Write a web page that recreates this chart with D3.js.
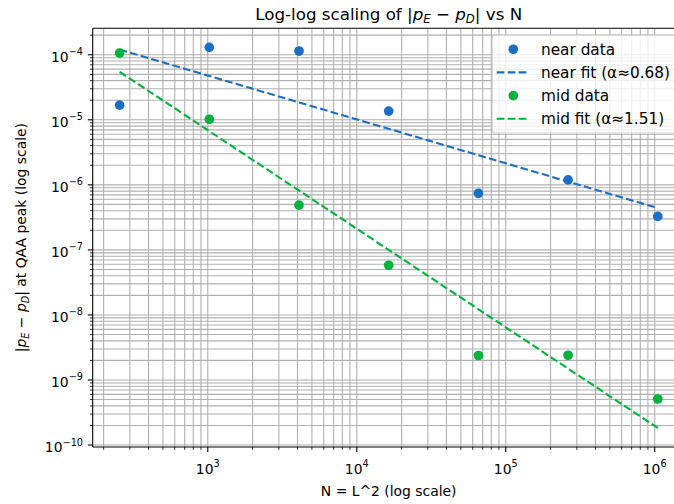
<!DOCTYPE html>
<html><head><meta charset="utf-8">
<script src="https://cdn.jsdelivr.net/npm/d3@7"></script>
<style>
body{margin:0;background:#fff;}
svg{display:block;font-family:"DejaVu Sans",sans-serif;}
</style>
</head><body><svg id="c" width="674" height="504"></svg>
<script>
// ---------- data ----------
const N = [256, 1024, 4096, 16384, 65536, 262144, 1048576];
const nearData = [1.68e-5, 1.30e-4, 1.14e-4, 1.36e-5, 7.4e-7, 1.19e-6, 3.27e-7];
const midData  = [1.06e-4, 1.02e-5, 4.88e-7, 5.8e-8, 2.38e-9, 2.4e-9, 5.1e-10];
const fitN     = [256, 1048576];
const nearFit  = [1.2e-4, 4.4e-7];
const midFit   = [5.47e-5, 1.83e-10];
const xMajorTicks = [1e3, 1e4, 1e5, 1e6];
const xTickExps   = ["3", "4", "5", "6"];
const yMajorTicks = [1e-10, 1e-9, 1e-8, 1e-7, 1e-6, 1e-5, 1e-4];
const yTickExps   = ["\u221210", "\u22129", "\u22128", "\u22127", "\u22126", "\u22125", "\u22124"];
const legendLabels = ["near data", "near fit (\u03b1\u22480.68)", "mid data", "mid fit (\u03b1\u22481.51)"];

// ---------- layout ----------
const svg = d3.select("#c");
const L = 92.7, T = 28.3, W = 592, H = 418.7;
const R = L + W, B = T + H;
const blue = "#1a6ec3", green = "#00b33c";
const gridColor = "#b0b0b0";

function logExtent(vals) {
  const lo = Math.log10(d3.min(vals)), hi = Math.log10(d3.max(vals));
  const m = (hi - lo) * 0.05;
  return [Math.pow(10, lo - m), Math.pow(10, hi + m)];
}
const x = d3.scaleLog().domain(logExtent(N)).range([L, R]);
const y = d3.scaleLog().domain(logExtent([...nearData, ...midData, ...nearFit, ...midFit])).range([B, T]);

function minorTicks(scale) {
  const [a, b] = scale.domain();
  const out = [];
  for (let k = Math.floor(Math.log10(a)); k <= Math.ceil(Math.log10(b)); k++) {
    for (let m = 2; m <= 9; m++) {
      const v = m * Math.pow(10, k);
      if (v >= a && v <= b) out.push(v);
    }
  }
  return out;
}
const xMinor = minorTicks(x), yMinor = minorTicks(y);

svg.append("defs").append("clipPath").attr("id", "clip")
  .append("rect").attr("x", L).attr("y", T).attr("width", W).attr("height", H);

// ---------- grid ----------
const grid = svg.append("g").attr("clip-path", "url(#clip)");
grid.selectAll(".gx").data([...xMinor, ...xMajorTicks]).join("line")
  .attr("x1", d => x(d)).attr("x2", d => x(d)).attr("y1", T).attr("y2", B)
  .attr("stroke", gridColor).attr("stroke-width", 1.1);
grid.selectAll(".gy").data([...yMinor, ...yMajorTicks]).join("line")
  .attr("y1", d => y(d)).attr("y2", d => y(d)).attr("x1", L).attr("x2", R)
  .attr("stroke", gridColor).attr("stroke-width", 1.1);

// ---------- data marks ----------
const plot = svg.append("g").attr("clip-path", "url(#clip)");
const line = d3.line().x(d => x(d[0])).y(d => y(d[1]));
function drawPoints(vals, color) {
  plot.append("g").selectAll("circle").data(N.map((n, i) => [n, vals[i]])).join("circle")
    .attr("cx", d => x(d[0])).attr("cy", d => y(d[1])).attr("r", 4.85).attr("fill", color);
}
function drawFit(vals, color) {
  plot.append("path").datum(fitN.map((n, i) => [n, vals[i]])).attr("d", line)
    .attr("fill", "none").attr("stroke", color).attr("stroke-width", 2.08)
    .attr("stroke-dasharray", "7.7,3.3");
}
drawPoints(nearData, blue);
drawFit(nearFit, blue);
drawPoints(midData, green);
drawFit(midFit, green);

// ---------- axes ----------
const ax = svg.append("g");
// spines
ax.append("line").attr("x1", L).attr("x2", L).attr("y1", T).attr("y2", B).attr("stroke", "#000").attr("stroke-width", 1.1);
ax.append("line").attr("x1", L).attr("x2", R).attr("y1", B).attr("y2", B).attr("stroke", "#000").attr("stroke-width", 1.1);
ax.append("line").attr("x1", L).attr("x2", R).attr("y1", T).attr("y2", T).attr("stroke", "#000").attr("stroke-width", 1.1);
ax.append("line").attr("x1", R).attr("x2", R).attr("y1", T).attr("y2", B).attr("stroke", "#000").attr("stroke-width", 1.1);

// x ticks
ax.selectAll(".xt").data(xMajorTicks).join("line")
  .attr("x1", d => x(d)).attr("x2", d => x(d)).attr("y1", B).attr("y2", B + 4.9)
  .attr("stroke", "#000").attr("stroke-width", 1.1);
ax.selectAll(".xm").data(xMinor).join("line")
  .attr("x1", d => x(d)).attr("x2", d => x(d)).attr("y1", B).attr("y2", B + 2.8)
  .attr("stroke", "#000").attr("stroke-width", 0.83);
// y ticks
ax.selectAll(".yt").data(yMajorTicks).join("line")
  .attr("y1", d => y(d)).attr("y2", d => y(d)).attr("x1", L - 4.9).attr("x2", L)
  .attr("stroke", "#000").attr("stroke-width", 1.1);
ax.selectAll(".ym").data(yMinor).join("line")
  .attr("y1", d => y(d)).attr("y2", d => y(d)).attr("x1", L - 2.8).attr("x2", L)
  .attr("stroke", "#000").attr("stroke-width", 0.83);

// x tick labels
xMajorTicks.forEach((v, i) => {
  const t = ax.append("text").attr("x", x(v)).attr("y", B + 26.5)
    .attr("text-anchor", "middle").attr("font-size", 13.9).attr("fill", "#000");
  t.append("tspan").text("10");
  t.append("tspan").attr("dy", -6.5).attr("font-size", 9.7).text(xTickExps[i]);
});
// y tick labels
yMajorTicks.forEach((v, i) => {
  const t = ax.append("text").attr("x", L - 9.7).attr("y", y(v) + 7)
    .attr("text-anchor", "end").attr("font-size", 13.9).attr("fill", "#000");
  t.append("tspan").text("10");
  t.append("tspan").attr("dy", -6.5).attr("font-size", 9.7).text(yTickExps[i]);
});

// math helper
function mathText(sel, segs, fs) {
  let shift = 0;
  segs.forEach(s => {
    const ts = sel.append("tspan").text(s.t);
    if (s.it) ts.attr("font-style", "italic");
    const target = s.sub ? fs * 0.22 : 0;
    if (target !== shift) { ts.attr("dy", target - shift); shift = target; }
    if (s.sub) ts.attr("font-size", fs * 0.7);
  });
}
const pSegs = [
  {t: "|"}, {t: "p", it: true}, {t: "E", it: true, sub: true},
  {t: " \u2212 "}, {t: "p", it: true}, {t: "D", it: true, sub: true}, {t: "|"}
];

// title
const title = svg.append("text").attr("x", (L + R) / 2).attr("y", 19.5)
  .attr("text-anchor", "middle").attr("font-size", 16.7).attr("fill", "#000");
mathText(title, [{t: "Log-log scaling of "}, ...pSegs, {t: " vs N"}], 16.7);

// x label
svg.append("text").attr("x", (L + R) / 2).attr("y", 496)
  .attr("text-anchor", "middle").attr("font-size", 13.9).attr("fill", "#000")
  .text("N = L^2 (log scale)");

// y label
const yl = svg.append("text").attr("transform", `translate(25.5,${(T + B) / 2}) rotate(-90)`)
  .attr("text-anchor", "middle").attr("font-size", 13.9).attr("fill", "#000");
mathText(yl, [...pSegs, {t: " at QAA peak (log scale)"}], 13.9);

// ---------- legend ----------
const lg = svg.append("g");
const lgL = 492.3, lgT = 35.3, lgR = R - 7, lgB = 133;
lg.append("rect").attr("x", lgL).attr("y", lgT).attr("width", lgR - lgL).attr("height", lgB - lgT)
  .attr("rx", 2.8).attr("fill", "#fff").attr("fill-opacity", 0.8)
  .attr("stroke", "#cccccc").attr("stroke-opacity", 0.8).attr("stroke-width", 1.1);
const rowY = [49.3, 72.4, 95.6, 118.7];
const kinds = ["pt", "ln", "pt", "ln"];
const cols = [blue, blue, green, green];
legendLabels.forEach((lab, i) => {
  if (kinds[i] === "pt") {
    lg.append("circle").attr("cx", 513.3).attr("cy", rowY[i]).attr("r", 4.85).attr("fill", cols[i]);
  } else {
    lg.append("line").attr("x1", 496.7).attr("x2", 529.5).attr("y1", rowY[i]).attr("y2", rowY[i])
      .attr("stroke", cols[i]).attr("stroke-width", 2.08).attr("stroke-dasharray", "7.7,3.3");
  }
  lg.append("text").attr("x", 541).attr("y", rowY[i] + 5.5).attr("font-size", 15.3).attr("fill", "#000").text(lab);
});
</script>
</body></html>
